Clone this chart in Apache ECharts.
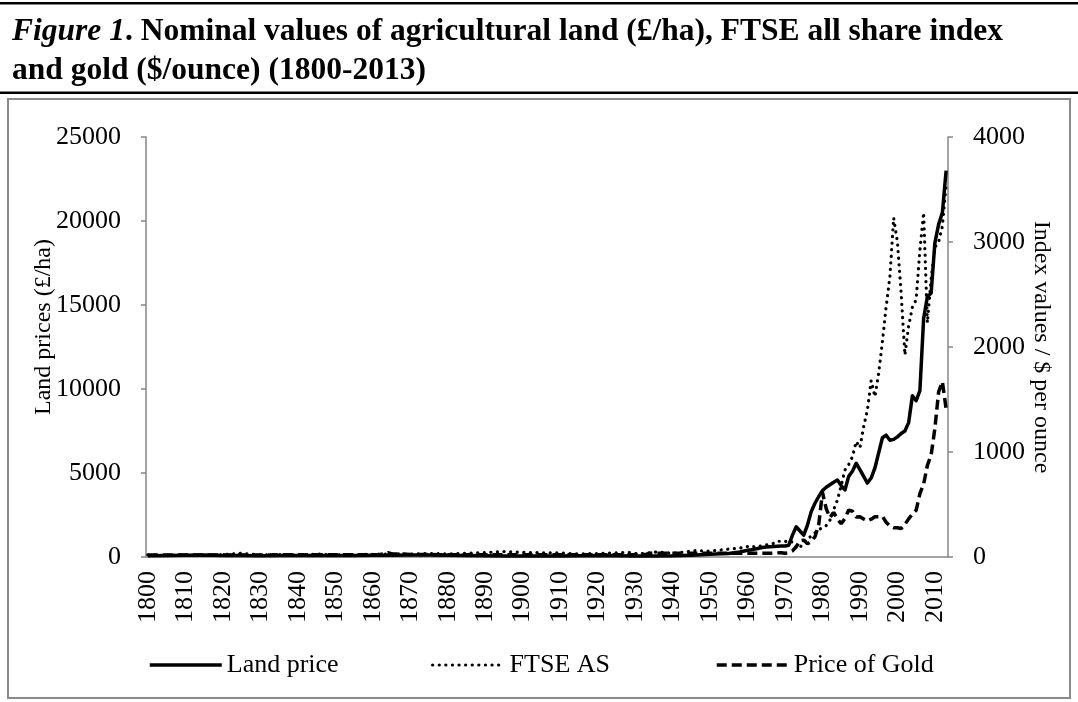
<!DOCTYPE html>
<html>
<head>
<meta charset="utf-8">
<script src="https://cdn.jsdelivr.net/npm/echarts@6/dist/echarts.min.js"></script>
<style>
  html, body { margin: 0; padding: 0; background: #fff; }
  #chart { width: 1078px; height: 702px; }
</style>
</head>
<body>
<div id="chart"></div>
<script>
// years on the category axis
const firstYear = 1800;
const lastYear = 2013;
const years = [];
for (let y = firstYear; y <= lastYear; y++) years.push(String(y));

// Land price (£/ha), left axis
const landYears = [1800, 1805, 1810, 1815, 1820, 1825, 1830, 1835, 1840, 1845, 1850, 1855, 1860, 1865, 1870, 1875,
  1880, 1885, 1890, 1895, 1900, 1905, 1910, 1915, 1920, 1925, 1930, 1935, 1940, 1945, 1950, 1953, 1955, 1958,
  1960, 1961, 1962, 1963, 1964, 1965, 1966, 1967, 1968, 1969, 1970, 1971, 1972, 1973, 1974, 1975, 1976, 1977,
  1978, 1979, 1980, 1981, 1982, 1983, 1984, 1985, 1986, 1987, 1988, 1989, 1990, 1991, 1992, 1993, 1994, 1995,
  1996, 1997, 1998, 1999, 2000, 2001, 2002, 2003, 2004, 2005, 2006, 2007, 2008, 2009, 2010, 2011, 2012, 2013];
const landValues = [75, 95, 110, 115, 90, 85, 80, 82, 88, 90, 85, 92, 100, 110, 120, 125,
  110, 95, 80, 65, 65, 62, 65, 70, 90, 75, 65, 55, 70, 110, 170, 190, 210, 300,
  400, 430, 470, 520, 560, 590, 610, 620, 640, 650, 660, 700, 1300, 1800, 1550, 1300, 1900, 2700,
  3200, 3600, 3950, 4150, 4300, 4450, 4580, 4250, 3990, 4800, 5100, 5580, 5200, 4800, 4400, 4700, 5300, 6200,
  7100, 7250, 6950, 7000, 7150, 7350, 7500, 8000, 9600, 9300, 9900, 14200, 15500, 15700, 18700, 19800, 20500, 23000];

// FTSE all share index, right axis
const ftseYears = [1800, 1805, 1810, 1815, 1820, 1825, 1830, 1835, 1840, 1845, 1850, 1855, 1860, 1865, 1870, 1875,
  1880, 1885, 1890, 1895, 1900, 1905, 1910, 1914, 1920, 1928, 1931, 1936, 1940, 1946, 1950, 1955, 1958,
  1960, 1961, 1962, 1963, 1964, 1965, 1966, 1967, 1968, 1969, 1970, 1971, 1972, 1973, 1974, 1975, 1976, 1977,
  1978, 1979, 1980, 1981, 1982, 1983, 1984, 1985, 1986, 1987, 1988, 1989, 1990, 1991, 1992, 1993, 1994, 1995,
  1996, 1997, 1998, 1999, 2000, 2001, 2002, 2003, 2004, 2005, 2006, 2007, 2008, 2009, 2010, 2011, 2012, 2013];
const ftseValues = [20, 15, 18, 14, 22, 35, 20, 24, 18, 28, 20, 22, 26, 30, 28, 33,
  30, 35, 42, 52, 45, 40, 38, 30, 32, 45, 28, 48, 35, 60, 55, 75, 85,
  100, 105, 95, 100, 110, 115, 120, 130, 150, 150, 145, 160, 140, 85, 90, 140, 170, 200,
  230, 260, 280, 300, 350, 450, 543, 680, 829, 880, 955, 1100, 1040, 1241, 1400, 1680, 1527, 1750,
  2050, 2384, 2670, 3230, 3000, 2510, 1924, 2200, 2380, 2450, 2920, 3280, 2230, 2650, 2950, 3000, 3150, 3550];

// Price of gold ($/ounce), right axis
const goldYears = [1800, 1833, 1834, 1861, 1862, 1863, 1864, 1865, 1866, 1867, 1868, 1869, 1870, 1871, 1872, 1873,
  1874, 1875, 1876, 1877, 1878, 1879, 1932, 1933, 1934, 1967, 1968, 1969, 1970, 1971, 1972, 1973, 1974, 1975,
  1976, 1977, 1978, 1979, 1980, 1981, 1982, 1983, 1984, 1985, 1986, 1987, 1988, 1989, 1990, 1991, 1992, 1993,
  1994, 1995, 1996, 1997, 1998, 1999, 2000, 2001, 2002, 2003, 2004, 2005, 2006, 2007, 2008, 2009, 2010, 2011,
  2012, 2013];
const goldValues = [19.39, 19.39, 20.67, 20.67, 23.9, 30.0, 40.5, 32.0, 29.2, 28.0, 28.5, 27.1, 23.6, 23.2, 23.3, 23.5,
  23.0, 23.6, 23.1, 21.9, 20.9, 20.67, 20.67, 25.56, 34.95, 35.0, 39.3, 41.3, 36.0, 40.8, 58.2, 97.3, 154, 161,
  125, 148, 193, 306, 615, 460, 376, 424, 361, 317, 368, 447, 437, 381, 383, 362, 344, 360,
  384, 384, 388, 331, 294, 279, 279, 271, 310, 363, 409, 445, 603, 695, 872, 972, 1225, 1572,
  1669, 1411];

const leftTicks = { min: 0, max: 25000, interval: 5000 };
const rightTicks = { min: 0, max: 4000, interval: 1000 };

// put the sparse readings onto the year categories
function onYears(ys, vals) {
  const out = years.map(() => null);
  ys.forEach((y, i) => { out[y - firstYear] = vals[i]; });
  return out;
}

const serif = "'Liberation Serif', 'Times New Roman', serif";
const axisGray = '#868686';

const solidLine = { color: '#000', width: 3.5, join: 'round' };
const dottedLine = { color: '#000', width: 3.2, type: [0.1, 6.5], cap: 'round' };
const dashedLine = { color: '#000', width: 3.5, type: [10, 5] };

const chart = echarts.init(document.getElementById('chart'));

const labelStyle = { color: '#000', fontFamily: serif, fontSize: 26 };
const plain = v => String(v);

chart.setOption({
  animation: false,
  backgroundColor: '#fff',
  graphic: [
    { type: 'rect', shape: { x: 0, y: 2, width: 1078, height: 2.5 }, style: { fill: '#000' } },
    { type: 'rect', shape: { x: 0, y: 91.5, width: 1078, height: 2.5 }, style: { fill: '#000' } },
    { type: 'rect', shape: { x: 8, y: 99, width: 1062, height: 599 },
      style: { fill: 'none', stroke: '#8a8a8a', lineWidth: 2 } },
    {
      type: 'text', left: 12, top: 16,
      style: {
        text: '{i|Figure 1}{b|. Nominal values of agricultural land (£/ha), FTSE all share index}\n{b|and gold ($/ounce) (1800-2013)}',
        rich: {
          i: { fontFamily: serif, fontSize: 31.5, fontWeight: 'bold', fontStyle: 'italic', fill: '#000', lineHeight: 39 },
          b: { fontFamily: serif, fontSize: 31.5, fontWeight: 'bold', fill: '#000', lineHeight: 39 }
        }
      }
    }
  ],
  grid: { left: 146, right: 130, top: 137, bottom: 145 },
  legend: [
    { data: ['Land price'], left: 148, lineStyle: solidLine },
    { data: ['FTSE AS'], left: 431, lineStyle: dottedLine },
    { data: ['Price of Gold'], left: 715, lineStyle: dashedLine }
  ].map(l => Object.assign(l, {
    top: 652, padding: 0, itemWidth: 72, itemHeight: 14, itemGap: 0, itemTextGap: 3,
    itemStyle: { color: 'rgba(0,0,0,0)', borderColor: 'rgba(0,0,0,0)', borderWidth: 0, opacity: 0 },
    textStyle: { color: '#000', fontFamily: serif, fontSize: 26 }
  })),
  xAxis: {
    type: 'category',
    data: years,
    boundaryGap: true,
    axisLine: { lineStyle: { color: axisGray, width: 1.5 } },
    axisTick: { interval: 9, length: 5, lineStyle: { color: axisGray, width: 1.5 } },
    axisLabel: Object.assign({ interval: 9, rotate: 90, margin: 14 }, labelStyle),
    splitLine: { show: false }
  },
  yAxis: [
    Object.assign({
      type: 'value',
      name: 'Land prices (£/ha)',
      nameLocation: 'middle',
      nameGap: 90,
      nameMoveOverlap: false,
      nameTextStyle: { color: '#000', fontFamily: serif, fontSize: 24, padding: [0, 0, 0, 40] },
      axisLine: { show: true, lineStyle: { color: axisGray, width: 1.5 } },
      axisTick: { show: true, length: 5, lineStyle: { color: axisGray, width: 1.5 } },
      axisLabel: Object.assign({ margin: 25, formatter: plain }, labelStyle),
      splitLine: { show: false }
    }, leftTicks),
    Object.assign({
      type: 'value',
      position: 'right',
      name: 'Index values / $ per ounce',
      nameLocation: 'middle',
      nameRotate: -90,
      nameGap: 81,
      nameMoveOverlap: false,
      nameTextStyle: { color: '#000', fontFamily: serif, fontSize: 24 },
      axisLine: { show: true, lineStyle: { color: axisGray, width: 1.5 } },
      axisTick: { show: true, length: 5, lineStyle: { color: axisGray, width: 1.5 } },
      axisLabel: Object.assign({ margin: 25, formatter: plain }, labelStyle),
      splitLine: { show: false }
    }, rightTicks)
  ],
  series: [
    {
      name: 'Land price', type: 'line', yAxisIndex: 0,
      data: onYears(landYears, landValues), connectNulls: true,
      symbol: 'none', z: 4,
      lineStyle: solidLine,
      itemStyle: { color: '#000' }
    },
    {
      name: 'FTSE AS', type: 'line', yAxisIndex: 1,
      data: onYears(ftseYears, ftseValues), connectNulls: true,
      symbol: 'none', z: 3,
      lineStyle: dottedLine,
      itemStyle: { color: '#000' }
    },
    {
      name: 'Price of Gold', type: 'line', yAxisIndex: 1,
      data: onYears(goldYears, goldValues), connectNulls: true,
      symbol: 'none', z: 3,
      lineStyle: dashedLine,
      itemStyle: { color: '#000' }
    }
  ]
});
</script>
</body>
</html>
